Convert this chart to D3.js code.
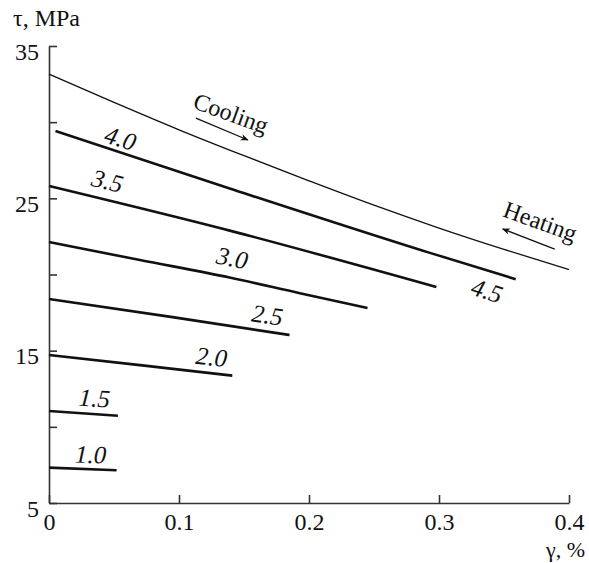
<!DOCTYPE html>
<html>
<head>
<meta charset="utf-8">
<script src="https://cdn.jsdelivr.net/npm/d3@7"></script>
<style>
    body { margin: 0; background: #fff; }
    svg { display: block; }
    .axis line, .axis path { stroke: #333; stroke-width: 1.6px; }
</style>
</head>
<body>
<svg id="chart" width="589" height="563"></svg>
<script>
// Axis ticks
const xTicks = [0, 0.1, 0.2, 0.3, 0.4];
const yTicks = [5, 10, 15, 20, 25, 30, 35];
const yTickLabels = [5, 15, 25, 35];

// Thin curve (cooling / heating)
const coolingGamma = [0, 0.05, 0.1, 0.15, 0.2, 0.25, 0.3, 0.35, 0.4];
const coolingTau = [33.15, 31.3, 29.5, 27.8, 26.15, 24.55, 23.05, 21.65, 20.33];

// Thick curves, one per label
const curveNames = ['1.0', '1.5', '2.0', '2.5', '3.0', '3.5', '4.0'];
const gamma10 = [0, 0.052];
const tau10 = [7.32, 7.15];
const gamma15 = [0, 0.053];
const tau15 = [11.04, 10.73];
const gamma20 = [0, 0.07, 0.141];
const tau20 = [14.72, 14.05, 13.36];
const gamma25 = [0, 0.095, 0.185];
const tau25 = [18.39, 17.2, 16.03];
const gamma30 = [0, 0.07, 0.139, 0.193, 0.245];
const tau30 = [22.13, 20.95, 19.8, 18.77, 17.8];
const gamma35 = [0, 0.139, 0.298];
const tau35 = [25.81, 22.88, 19.18];
const gamma40 = [0.005, 0.139, 0.293, 0.359];
const tau40 = [29.42, 25.65, 21.42, 19.69];

// Text labels placed in data units
const labelText = ['1.0', '1.5', '2.0', '2.5', '3.0', '3.5', '4.0', '4.5'];
const labelGamma = [0.032, 0.035, 0.125, 0.168, 0.141, 0.045, 0.055, 0.337];
const labelTau = [8.2, 11.9, 14.6, 17.35, 21.1, 26.15, 28.95, 18.95];
const labelAngle = [2, 4, 6, 8, 11, 14, 17, 18];

// Cooling / heating annotations
const noteText = ['Cooling', 'Heating'];
const noteGamma = [0.14, 0.378];
const noteTau = [30.6, 23.5];
const noteAngle = [20, 20];
const arrowFromGamma = [0.113, 0.389];
const arrowFromTau = [30.27, 21.67];
const arrowToGamma = [0.153, 0.349];
const arrowToTau = [28.83, 22.99];

const fontFamily = '"Liberation Serif", "Times New Roman", Times, serif';

const svg = d3.select('#chart')
    .style('font-family', fontFamily);
const width = 589;
const height = 563;
const margins = { left: 49, top: 46, right: 20, bottom: 60 };

const x = d3.scaleLinear()
    .domain([0, 0.4])
    .range([margins.left, width - margins.right]);

const y = d3.scaleLinear()
    .domain([5, 35])
    .range([height - margins.bottom, margins.top]);

const line = d3.line()
    .x((d) => x(d[0]))
    .y((d) => y(d[1]))
    .curve(d3.curveMonotoneX);

// Arrow head
svg.append('defs')
    .append('marker')
    .attr('id', 'arrow')
    .attr('viewBox', '0 0 10 10')
    .attr('refX', 9)
    .attr('refY', 5)
    .attr('markerWidth', 10)
    .attr('markerHeight', 8)
    .attr('markerUnits', 'userSpaceOnUse')
    .attr('orient', 'auto')
    .append('path')
    .attr('d', 'M0,1 L10,5 L0,9 L3,5 Z')
    .style('fill', '#111');

// Axes
const xAxis = d3.axisBottom(x)
    .tickValues(xTicks)
    .tickSize(-8)
    .tickSizeOuter(0)
    .tickPadding(10)
    .tickFormat((d) => d === 0 ? '0' : d3.format('.1f')(d));

svg.append('g')
    .attr('class', 'axis x-axis')
    .attr('transform', `translate(0, ${y(5)})`)
    .call(xAxis)
    .selectAll('.tick text')
    .attr('font-family', null)
    .style('font-family', fontFamily)
    .style('font-size', '24px')
    .style('fill', '#111');

const yAxis = d3.axisLeft(y)
    .tickValues(yTicks)
    .tickSize(-8)
    .tickSizeOuter(0)
    .tickPadding(10)
    .tickFormat((d) => yTickLabels.includes(d) ? d : '');

svg.append('g')
    .attr('class', 'axis y-axis')
    .attr('transform', `translate(${x(0)}, 0)`)
    .call(yAxis)
    .selectAll('.tick text')
    .attr('dy', '0.55em')
    .attr('font-family', null)
    .style('font-family', fontFamily)
    .style('font-size', '24px')
    .style('fill', '#111');

// Axis titles
svg.append('text')
    .attr('x', 13)
    .attr('y', 26)
    .style('font-size', '24px')
    .style('fill', '#111')
    .text('τ, MPa');

svg.append('text')
    .attr('x', 585)
    .attr('y', 557)
    .attr('text-anchor', 'end')
    .style('font-size', '22px')
    .style('fill', '#111')
    .text('γ, %');

// Curves
const thinData = coolingGamma.map((g, i) => [g, coolingTau[i]]);

svg.append('path')
    .attr('class', 'thin')
    .attr('d', line(thinData))
    .style('fill', 'none')
    .style('stroke', '#111')
    .style('stroke-width', '1.3px');

const gammas = [gamma10, gamma15, gamma20, gamma25, gamma30, gamma35, gamma40];
const taus = [tau10, tau15, tau20, tau25, tau30, tau35, tau40];
const thickData = curveNames.map((name, k) => ({
    name: name,
    data: gammas[k].map((g, i) => [g, taus[k][i]]),
}));

svg.append('g')
    .attr('class', 'data-container')
    .selectAll('path.data')
    .data(thickData, (d) => d.name)
    .enter()
    .append('path')
    .attr('class', 'data')
    .attr('d', (d) => line(d.data))
    .style('fill', 'none')
    .style('stroke', '#111')
    .style('stroke-width', '2.6px');

// Curve labels
svg.append('g')
    .selectAll('text.curve-label')
    .data(labelText)
    .enter()
    .append('text')
    .attr('class', 'curve-label')
    .attr('text-anchor', 'middle')
    .attr('dy', '0.35em')
    .style('font-style', 'italic')
    .style('font-size', '25px')
    .style('fill', '#111')
    .attr('transform', (d, i) => `translate(${x(labelGamma[i])}, ${y(labelTau[i])}) rotate(${labelAngle[i]})`)
    .text((d) => d);

// Cooling / heating notes
svg.append('g')
    .selectAll('text.note')
    .data(noteText)
    .enter()
    .append('text')
    .attr('class', 'note')
    .attr('text-anchor', 'middle')
    .attr('dy', '0.35em')
    .style('font-size', '24px')
    .style('fill', '#111')
    .attr('transform', (d, i) => `translate(${x(noteGamma[i])}, ${y(noteTau[i])}) rotate(${noteAngle[i]})`)
    .text((d) => d);

svg.append('g')
    .selectAll('line.arrow')
    .data(noteText)
    .enter()
    .append('line')
    .attr('class', 'arrow')
    .attr('x1', (d, i) => x(arrowFromGamma[i]))
    .attr('y1', (d, i) => y(arrowFromTau[i]))
    .attr('x2', (d, i) => x(arrowToGamma[i]))
    .attr('y2', (d, i) => y(arrowToTau[i]))
    .style('stroke', '#111')
    .style('stroke-width', '1.3px')
    .attr('marker-end', 'url(#arrow)');
</script>
</body>
</html>
